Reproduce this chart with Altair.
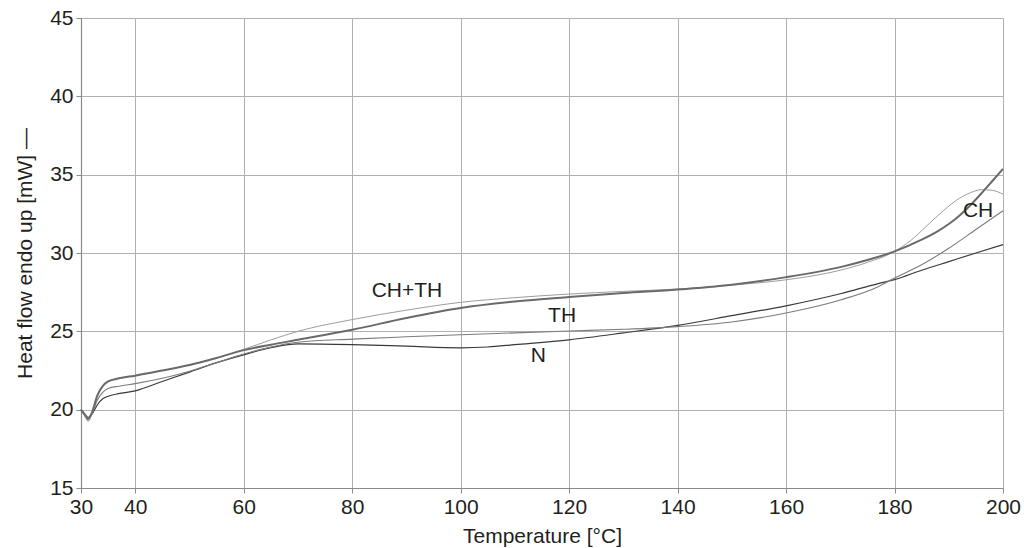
import altair as alt
import pandas as pd

# ---- data ----
T_N = [30, 30.7, 31.3, 32, 33, 34, 36, 40, 45, 50, 55, 60, 65, 70, 80, 90, 100, 105, 110, 120,
       130, 140, 150, 160, 170, 177, 180, 185, 190, 195, 200]
Y_N = [20.0, 19.7, 19.5, 19.7, 20.3, 20.7, 20.95, 21.2, 21.8, 22.4, 23.0, 23.5, 23.95, 24.2, 24.15,
       24.05, 23.95, 24.0, 24.15, 24.46, 24.9, 25.38, 26.0, 26.63, 27.4, 28.05, 28.3, 28.9, 29.45,
       30.0, 30.53]

T_TH = [30, 30.7, 31.3, 32, 33, 34, 35, 37, 40, 45, 50, 55, 60, 65, 70, 80, 90, 100, 110, 120,
        130, 140, 150, 160, 170, 177, 180, 185, 190, 195, 200]
Y_TH = [20.0, 19.6, 19.35, 19.7, 20.6, 21.1, 21.35, 21.5, 21.66, 22.0, 22.45, 23.0, 23.55, 24.0,
        24.3, 24.5, 24.65, 24.78, 24.9, 25.02, 25.13, 25.3, 25.6, 26.17, 27.0, 27.85, 28.4, 29.25,
        30.3, 31.5, 32.7]

T_CH = [30, 30.7, 31.3, 32, 33, 34, 35, 37, 40, 45, 50, 55, 60, 65, 70, 80, 90, 100, 110, 120,
        130, 140, 150, 160, 170, 175, 180, 183, 186, 189, 192, 194, 196, 198, 200]
Y_CH = [20.0, 19.6, 19.25, 19.7, 20.9, 21.5, 21.8, 22.0, 22.17, 22.5, 22.85, 23.3, 23.85, 24.45,
        25.0, 25.75, 26.35, 26.85, 27.15, 27.38, 27.55, 27.7, 27.95, 28.29, 28.9, 29.4, 30.1, 30.8,
        31.75, 32.7, 33.5, 33.85, 34.04, 34.0, 33.76]

T_CHTH = [30, 30.7, 31.3, 32, 33, 34, 35, 37, 40, 45, 50, 55, 60, 65, 70, 80, 90, 100, 110, 120,
          130, 140, 150, 160, 170, 175, 180, 185, 188, 190, 192, 194, 196, 198, 200]
Y_CHTH = [20.0, 19.7, 19.45, 19.8, 20.9, 21.5, 21.8, 22.0, 22.17, 22.5, 22.85, 23.3, 23.8, 24.15,
          24.46, 25.1, 25.85, 26.49, 26.9, 27.19, 27.45, 27.67, 27.98, 28.46, 29.1, 29.55, 30.1,
          30.85, 31.4, 31.85, 32.4, 33.05, 33.8, 34.58, 35.37]

series_names = ["N", "TH", "CH", "CH+TH"]
series_T = [T_N, T_TH, T_CH, T_CHTH]
series_Y = [Y_N, Y_TH, Y_CH, Y_CHTH]
series_color = ["#3a3a3a", "#7c7c7c", "#9c9c9c", "#6a6a6a"]
series_width = [1.2, 1.1, 1.0, 2.0]

label_text = ["CH+TH", "TH", "N", "CH"]
label_x = [90.1, 118.7, 114.3, 195.4]
label_y = [27.6, 26.0, 23.4, 32.65]

x_ticks = [30, 40, 60, 80, 100, 120, 140, 160, 180, 200]
y_ticks = [15, 20, 25, 30, 35, 40, 45]

FONT = "Liberation Sans"
FS = 21

x_scale = alt.Scale(domain=[30, 200], nice=False, zero=False)
y_scale = alt.Scale(domain=[15, 45], nice=False, zero=False)

layers = []
for name, T, Y, c, w in zip(series_names, series_T, series_Y, series_color, series_width):
    df = pd.DataFrame({"T": T, "Y": Y})
    layer = alt.Chart(df).mark_line(
        color=c, strokeWidth=w, interpolate="monotone"
    ).encode(
        x=alt.X("T:Q", scale=x_scale,
                axis=alt.Axis(values=x_ticks, title="Temperature [°C]", titlePadding=8,
                              labelFlush=False, labelOverlap=False)),
        y=alt.Y("Y:Q", scale=y_scale,
                axis=alt.Axis(values=y_ticks, title="Heat flow endo up [mW] —", titlePadding=14,
                              labelFlush=False, labelOverlap=False)),
    )
    layers.append(layer)

labels_df = pd.DataFrame({"t": label_text, "x": label_x, "y": label_y})
labels = alt.Chart(labels_df).mark_text(
    font=FONT, fontSize=FS, color="#231f20", align="center", baseline="middle"
).encode(x=alt.X("x:Q", scale=x_scale), y=alt.Y("y:Q", scale=y_scale), text="t:N")
layers.append(labels)

chart = alt.layer(*layers).properties(
    width=922, height=470,
    autosize=alt.AutoSizeParams(type="none"),
    padding={"left": 81, "top": 18, "right": 21, "bottom": 60},
    background="white",
).configure_view(strokeWidth=0).configure_axis(
    labelFont=FONT, titleFont=FONT, labelFontSize=FS, titleFontSize=FS,
    titleFontWeight="normal", labelColor="#231f20", titleColor="#231f20",
    gridColor="#b0b0b0", gridWidth=1, domainColor="#8a8a8a", domainWidth=1.2,
    tickColor="#8a8a8a", tickSize=5, labelPadding=3,
)

chart.save("out.html", embed_options={"renderer": "svg", "actions": False})
